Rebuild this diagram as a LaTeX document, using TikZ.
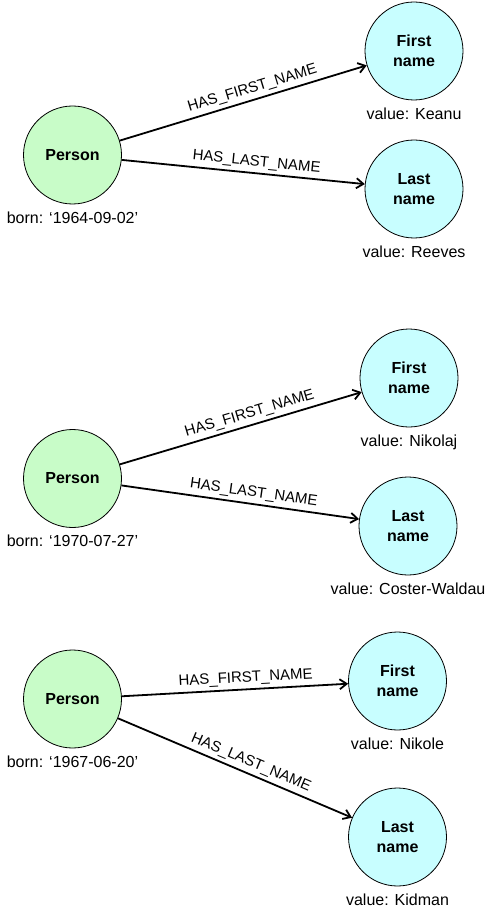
\documentclass[tikz,border=0pt]{standalone}
\usepackage{fontspec}
\setmainfont{Liberation Sans}
\usepackage{tikz}
\usetikzlibrary{arrows.meta}
\definecolor{persongreen}{HTML}{C8FCC8}
\definecolor{namecyan}{HTML}{C8FEFF}

\begin{document}
\begin{tikzpicture}[x=1pt, y=-1pt, line width=1.8pt, >={Straight Barb[length=7pt, width=10pt]}]
	\tikzstyle{person} = [circle, draw, line width=0.8pt, fill=persongreen, minimum size=98pt, inner sep=0pt, font=\fontsize{16}{20}\selectfont\bfseries]
	\tikzstyle{namenode} = [circle, draw, line width=0.8pt, fill=namecyan, minimum size=98pt, inner sep=0pt, align=center, font=\fontsize{16}{20}\selectfont\bfseries]
	\tikzstyle{info} = [font=\fontsize{16}{19}\selectfont, label distance=3pt]
	\tikzstyle{rel} = [font=\fontsize{15}{18}\selectfont, sloped, above, pos=0.55]
	\useasboundingbox (0,0) rectangle (490,917);
	% Keanu Reeves
	\node[person, label={[info]below:{born: ‘1964-09-02’}}] (p1) at (72.5,155) {Person};
	\node[namenode, label={[info]below:{value: Keanu}}] (f1) at (414,51) {First\\name};
	\node[namenode, label={[info]below:{value: Reeves}}] (l1) at (414,189) {Last\\name};
	\draw [->] (p1)--(f1) node[rel] {HAS\_FIRST\_NAME};
	\draw [->] (p1)--(l1) node[rel] {HAS\_LAST\_NAME};
	% Nikolaj Coster-Waldau
	\node[person, label={[info]below:{born: ‘1970-07-27’}}] (p2) at (72.5,478.5) {Person};
	\node[namenode, label={[info]below:{value: Nikolaj}}] (f2) at (409,378) {First\\name};
	\node[namenode, label={[info]below:{value: Coster-Waldau}}] (l2) at (408,526) {Last\\name};
	\draw [->] (p2)--(f2) node[rel] {HAS\_FIRST\_NAME};
	\draw [->] (p2)--(l2) node[rel] {HAS\_LAST\_NAME};
	% Nikole Kidman
	\node[person, label={[info]below:{born: ‘1967-06-20’}}] (p3) at (72.5,699) {Person};
	\node[namenode, label={[info]below:{value: Nikole}}] (f3) at (397.5,681) {First\\name};
	\node[namenode, label={[info]below:{value: Kidman}}] (l3) at (397.5,837) {Last\\name};
	\draw [->] (p3)--(f3) node[rel] {HAS\_FIRST\_NAME};
	\draw [->] (p3)--(l3) node[rel] {HAS\_LAST\_NAME};
\end{tikzpicture}
\end{document}
